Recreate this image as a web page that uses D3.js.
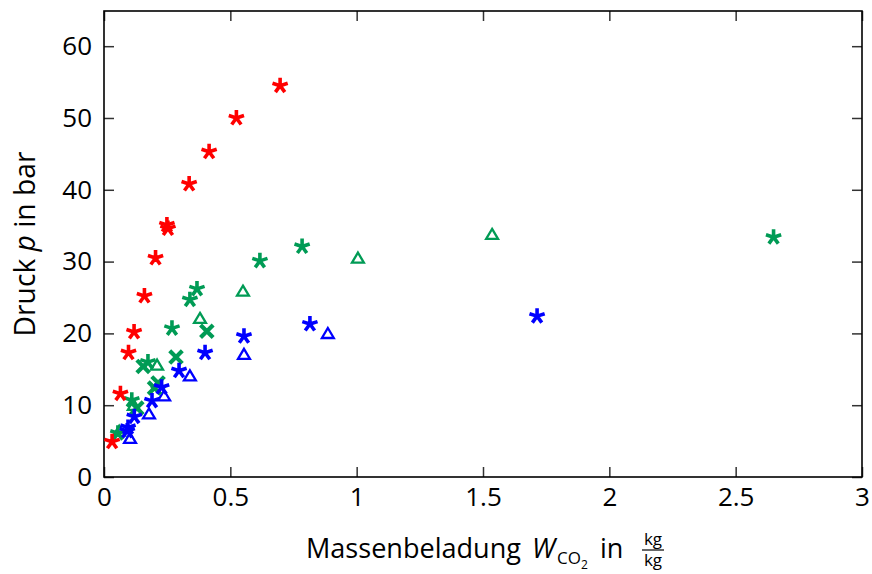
<!DOCTYPE html>
<html>
<head>
<meta charset="utf-8">
<script src="https://cdn.jsdelivr.net/npm/d3@7"></script>
<style>
  body { margin: 0; background: #fff; }
  text { font-family: "Open Sans", "DejaVu Sans", sans-serif; fill: #000; }
</style>
</head>
<body>
<div id="graphic"></div>
<script>
// data: [W, p]
const redStars = [[0.032,4.9],[0.065,11.6],[0.097,17.3],[0.119,20.2],[0.16,25.2],[0.204,30.5],
  [0.249,35.1],[0.253,34.6],[0.337,40.8],[0.416,45.3],[0.524,50.0],[0.697,54.5]];
const greenStars = [[0.055,6.1],[0.11,10.7],[0.174,16.0],[0.269,20.7],[0.34,24.7],[0.368,26.2],
  [0.617,30.1],[0.784,32.1],[2.65,33.4]];
const greenCrosses = [[0.13,9.6],[0.155,15.4],[0.2,12.4],[0.214,13.1],[0.285,16.7],[0.407,20.3]];
const greenTriangles = [[0.06,6.4],[0.118,10.0],[0.21,15.6],[0.38,22.1],[0.55,25.9],[1.005,30.5],[1.536,33.8]];
const blueStars = [[0.092,6.4],[0.095,6.9],[0.12,8.4],[0.19,10.6],[0.228,12.5],[0.297,14.8],
  [0.40,17.3],[0.554,19.6],[0.815,21.3],[1.714,22.4]];
const blueTriangles = [[0.103,5.4],[0.178,8.8],[0.238,11.3],[0.34,14.1],[0.554,17.1],[0.886,20.0]];

const xTicks = [0, 0.5, 1, 1.5, 2, 2.5, 3];
const yTicks = [0, 10, 20, 30, 40, 50, 60];

const red = "#ff0000", green = "#009b55", blue = "#0000ff";

const W = 872, H = 574;
const margin = { left: 104, right: 10, top: 11, bottom: 97 };
const width = W - margin.left - margin.right;
const height = H - margin.top - margin.bottom;

const svg = d3.select("#graphic").append("svg")
  .attr("width", W).attr("height", H);
const plot = svg.append("g")
  .attr("transform", `translate(${margin.left},${margin.top})`);

const x = d3.scaleLinear().domain([0, 3]).range([0, width]);
const y = d3.scaleLinear().domain([0, 64.9]).range([height, 0]);

// axes with inward ticks on all four sides
const tickLen = 10;
plot.append("g").attr("transform", `translate(0,${height})`)
  .call(d3.axisBottom(x).tickValues(xTicks).tickSizeInner(-tickLen).tickSizeOuter(0)
    .tickPadding(11).tickFormat(d => d3.format("")(d)))
  .call(g => g.select(".domain").remove());
plot.append("g")
  .call(d3.axisTop(x).tickValues(xTicks).tickSizeInner(-tickLen).tickSizeOuter(0).tickFormat(""))
  .call(g => g.select(".domain").remove());
plot.append("g")
  .call(d3.axisLeft(y).tickValues(yTicks).tickSizeInner(-tickLen).tickSizeOuter(0).tickPadding(12))
  .call(g => g.select(".domain").remove());
plot.append("g").attr("transform", `translate(${width},0)`)
  .call(d3.axisRight(y).tickValues(yTicks).tickSizeInner(-tickLen).tickSizeOuter(0).tickFormat(""))
  .call(g => g.select(".domain").remove());

plot.selectAll(".tick line").attr("stroke", "#333").attr("stroke-width", 1.5);
plot.selectAll(".tick text").style("font-size", "26px").attr("fill", "#000");

plot.append("rect")
  .attr("width", width).attr("height", height)
  .attr("fill", "none").attr("stroke", "#000").attr("stroke-width", 1.6);

// marker paths
const r = 8;
function starPath() {
  let p = "";
  for (let k = 0; k < 5; k++) {
    const a = -Math.PI / 2 + k * 2 * Math.PI / 5;
    p += `M0,0L${r * Math.cos(a)},${r * Math.sin(a)}`;
  }
  return p;
}
function crossPath() {
  const c = 6.3;
  return `M${-c},${-c}L${c},${c}M${-c},${c}L${c},${-c}`;
}
function trianglePath() {
  const s = 5.4;
  return `M0,${-s}L${s * 1.1},${s * 0.85}L${-s * 1.1},${s * 0.85}Z`;
}

function drawSeries(data, color, path, sw, cls) {
  plot.append("g").attr("class", cls)
    .selectAll("path")
    .data(data)
    .enter()
    .append("path")
    .attr("transform", d => `translate(${x(d[0])},${y(d[1])})`)
    .attr("d", path)
    .attr("fill", "none")
    .attr("stroke", color)
    .attr("stroke-width", sw)
    .attr("stroke-linecap", "butt")
    .attr("stroke-linejoin", "miter");
}

drawSeries(greenTriangles, green, trianglePath(), 2.3, "gt");
drawSeries(blueTriangles, blue, trianglePath(), 2.3, "bt");
drawSeries(greenCrosses, green, crossPath(), 4.2, "gx");
drawSeries(greenStars, green, starPath(), 3.6, "gs");
drawSeries(blueStars, blue, starPath(), 3.6, "bs");
drawSeries(redStars, red, starPath(), 3.6, "rs");

// scale a label's font so it reaches the width seen in the picture
function fitWidth(sel, target, base) {
  sel.style("font-size", base + "px");
  const w = sel.node().getComputedTextLength();
  sel.style("font-size", (base * target / w) + "px");
}

// y label
const yl = svg.append("text")
  .attr("transform", `translate(35,${margin.top + height / 2}) rotate(-90)`)
  .attr("text-anchor", "middle")
  .html('Druck <tspan font-style="italic">p</tspan> in bar');
fitWidth(yl, 185, 26);

// x label
const xMain = svg.append("text").attr("x", 306).attr("y", 558).text("Massenbeladung");
fitWidth(xMain, 215, 25);
const fs = parseFloat(xMain.style("font-size"));
svg.append("text").attr("x", 532).attr("y", 558).style("font-size", fs + "px")
  .attr("font-style", "italic").text("W");
svg.append("text").attr("x", 557).attr("y", 564).style("font-size", "17px").text("CO");
svg.append("text").attr("x", 581).attr("y", 569).style("font-size", "12px").text("2");
svg.append("text").attr("x", 600).attr("y", 558).style("font-size", fs + "px").text("in");

const fx = 653;
svg.append("text").attr("x", fx).attr("y", 545).attr("text-anchor", "middle")
  .style("font-size", "17px").text("kg");
svg.append("line").attr("x1", fx - 11).attr("x2", fx + 11).attr("y1", 550).attr("y2", 550)
  .attr("stroke", "#000").attr("stroke-width", 1.2);
svg.append("text").attr("x", fx).attr("y", 566).attr("text-anchor", "middle")
  .style("font-size", "17px").text("kg");
</script>
</body>
</html>
